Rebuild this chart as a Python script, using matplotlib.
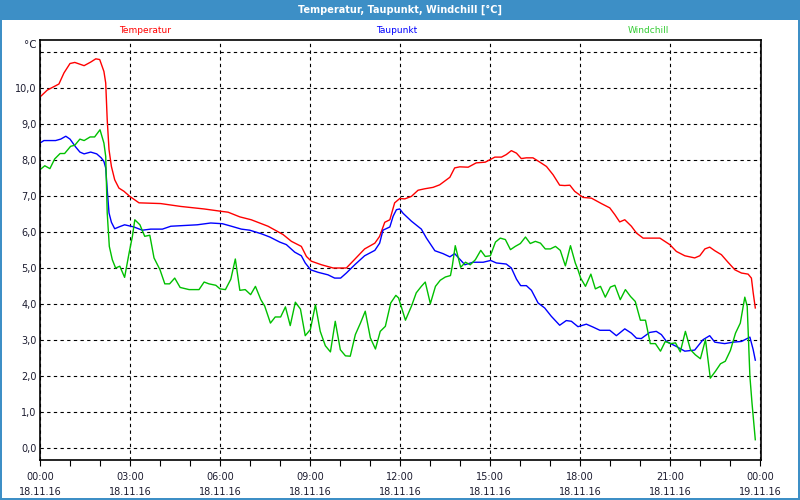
import matplotlib.pyplot as plt
from matplotlib.patches import Rectangle
from matplotlib.ticker import MultipleLocator

# Data (x in hours since 18.11.16 00:00, y in °C)
temp_h = [0, 0.24, 0.63, 0.8, 1.0, 1.16, 1.47, 1.69, 1.86, 1.99, 2.13, 2.19, 2.24, 2.3, 2.38,
          2.49, 2.63, 2.8, 2.99, 3.3, 4.02, 4.69, 5.47, 6.08, 6.27, 6.66, 7.04, 7.6, 8.1,
          8.38, 8.71, 8.88, 9.04, 9.38, 9.77, 10.21, 10.43, 10.82, 11.16, 11.32, 11.49,
          11.66, 11.82, 11.99, 12.16, 12.38, 12.6, 12.82, 13.1, 13.32, 13.66, 13.82, 13.99,
          14.27, 14.54, 14.84, 15.16, 15.38, 15.54, 15.71, 15.88, 16.04, 16.21, 16.43,
          16.66, 16.88, 17.1, 17.32, 17.49, 17.66, 17.82, 18.1, 18.38, 18.71, 18.99, 19.16,
          19.32, 19.49, 19.71, 19.88, 20.1, 20.66, 20.99, 21.21, 21.49, 21.82, 21.99, 22.16,
          22.32, 22.49, 22.71, 22.93, 23.16, 23.38, 23.6, 23.71, 23.77, 23.84]
temp_v = [9.75, 9.94, 10.11, 10.42, 10.68, 10.71, 10.62, 10.72, 10.81, 10.79, 10.46, 10.14,
          9.12, 8.29, 7.82, 7.45, 7.22, 7.13, 6.99, 6.81, 6.79, 6.71, 6.64, 6.57, 6.55, 6.42,
          6.34, 6.16, 5.93, 5.74, 5.6, 5.32, 5.19, 5.09, 5.0, 5.0, 5.19, 5.53, 5.69, 5.88,
          6.27, 6.34, 6.81, 6.93, 6.92, 6.99, 7.16, 7.2, 7.24, 7.31, 7.52, 7.78, 7.81, 7.8,
          7.92, 7.94, 8.08, 8.08, 8.15, 8.26, 8.19, 8.04, 8.06, 8.06, 7.94, 7.82, 7.59, 7.3,
          7.29, 7.3, 7.13, 6.96, 6.94, 6.79, 6.67, 6.48, 6.28, 6.34, 6.16, 5.97, 5.83, 5.83,
          5.65, 5.46, 5.34, 5.28, 5.34, 5.53, 5.58, 5.48, 5.37, 5.16, 4.95, 4.86, 4.83, 4.72,
          4.31, 3.89]

dew_h = [0, 0.13, 0.52, 0.69, 0.86, 1.0, 1.19, 1.33, 1.47, 1.69, 1.89, 2.04, 2.13, 2.19,
         2.24, 2.3, 2.38, 2.49, 2.63, 2.82, 3.13, 3.41, 3.69, 4.08, 4.36, 4.8, 5.24, 5.69,
         6.08, 6.38, 6.71, 6.99, 7.38, 7.66, 7.99, 8.21, 8.49, 8.71, 8.84, 9.02, 9.27, 9.6,
         9.82, 10.02, 10.21, 10.49, 10.82, 11.16, 11.32, 11.43, 11.66, 11.77, 11.88, 11.99,
         12.1, 12.38, 12.71, 12.88, 13.16, 13.43, 13.66, 13.82, 14.16, 14.43, 14.77, 15.02,
         15.21, 15.54, 15.71, 15.88, 16.02, 16.21, 16.38, 16.6, 16.82, 17.04, 17.32, 17.54,
         17.71, 17.93, 18.21, 18.43, 18.66, 18.99, 19.21, 19.49, 19.71, 19.88, 20.04, 20.32,
         20.54, 20.71, 20.88, 21.21, 21.49, 21.82, 22.1, 22.32, 22.49, 22.82, 23.1, 23.38,
         23.66, 23.77, 23.84]
dew_v = [8.47, 8.54, 8.54, 8.58, 8.66, 8.58, 8.36, 8.22, 8.17, 8.22, 8.17, 8.06, 7.96, 7.78,
         7.18, 6.53, 6.27, 6.09, 6.14, 6.2, 6.14, 6.05, 6.08, 6.08, 6.16, 6.18, 6.2, 6.25,
         6.23, 6.16, 6.08, 6.05, 5.95, 5.86, 5.72, 5.65, 5.44, 5.34, 5.14, 4.95, 4.88, 4.81,
         4.72, 4.72, 4.86, 5.09, 5.34, 5.49, 5.69, 6.05, 6.14, 6.44, 6.62, 6.64, 6.52, 6.3,
         6.08, 5.83, 5.48, 5.4, 5.31, 5.4, 5.09, 5.16, 5.16, 5.21, 5.14, 5.11, 5.0, 4.69,
         4.51, 4.51, 4.38, 4.03, 3.89, 3.66, 3.41, 3.54, 3.52, 3.37, 3.44, 3.36, 3.27, 3.27,
         3.12, 3.31, 3.19, 3.05, 3.04, 3.21, 3.24, 3.15, 2.96, 2.82, 2.69, 2.72, 3.01, 3.12,
         2.94, 2.9, 2.94, 2.96, 3.08, 2.73, 2.44]

chill_h = [0, 0.16, 0.33, 0.49, 0.67, 0.82, 1.02, 1.16, 1.33, 1.47, 1.67, 1.82, 2.0, 2.13,
           2.19, 2.24, 2.31, 2.41, 2.52, 2.66, 2.82, 2.97, 3.08, 3.16, 3.33, 3.49, 3.66,
           3.8, 4.0, 4.16, 4.32, 4.49, 4.67, 4.97, 5.3, 5.47, 5.63, 5.86, 6.0, 6.18, 6.36,
           6.51, 6.66, 6.84, 7.02, 7.18, 7.36, 7.49, 7.68, 7.84, 8.02, 8.18, 8.34, 8.51,
           8.68, 8.84, 9.01, 9.18, 9.34, 9.51, 9.68, 9.84, 10.01, 10.18, 10.34, 10.51, 10.68,
           10.84, 11.01, 11.18, 11.34, 11.51, 11.69, 11.86, 11.95, 12.02, 12.18, 12.38, 12.54,
           12.71, 12.84, 13.01, 13.18, 13.34, 13.51, 13.68, 13.74, 13.84, 13.93, 14.02,
           14.18, 14.34, 14.51, 14.69, 14.84, 15.01, 15.18, 15.34, 15.51, 15.68, 15.84,
           16.01, 16.18, 16.34, 16.51, 16.68, 16.84, 17.01, 17.18, 17.34, 17.51, 17.68,
           17.84, 17.93, 18.02, 18.18, 18.36, 18.51, 18.68, 18.84, 19.01, 19.16, 19.34,
           19.51, 19.68, 19.84, 20.01, 20.18, 20.34, 20.51, 20.68, 20.84, 21.01, 21.18,
           21.34, 21.51, 21.68, 21.84, 22.01, 22.18, 22.34, 22.51, 22.68, 22.84, 23.01,
           23.18, 23.34, 23.49, 23.57, 23.66, 23.73, 23.84]
chill_v = [7.73, 7.84, 7.76, 8.03, 8.18, 8.18, 8.38, 8.41, 8.58, 8.54, 8.64, 8.64, 8.84,
           8.47, 8.1, 6.53, 5.6, 5.23, 5.0, 5.05, 4.74, 5.42, 5.88, 6.34, 6.2, 5.88, 5.91,
           5.28, 4.95, 4.56, 4.56, 4.72, 4.46, 4.4, 4.4, 4.61, 4.56, 4.52, 4.42, 4.4, 4.69,
           5.25, 4.38, 4.4, 4.26, 4.49, 4.12, 3.94, 3.47, 3.64, 3.64, 3.92, 3.4, 4.05, 3.86,
           3.12, 3.29, 3.98, 3.24, 2.84, 2.67, 3.52, 2.73, 2.56, 2.55, 3.15, 3.47, 3.8, 3.06,
           2.75, 3.24, 3.38, 4.03, 4.24, 4.17, 3.98, 3.55, 3.94, 4.31, 4.49, 4.61, 4.01,
           4.49, 4.66, 4.75, 4.79, 5.05, 5.62, 5.32, 5.02, 5.16, 5.09, 5.23, 5.49, 5.32,
           5.34, 5.72, 5.83, 5.79, 5.51, 5.6, 5.68, 5.86, 5.68, 5.74, 5.69, 5.53, 5.53, 5.6,
           5.49, 5.06, 5.62, 5.14, 4.95, 4.72, 4.49, 4.83, 4.42, 4.49, 4.19, 4.47, 4.52,
           4.12, 4.4, 4.21, 4.07, 3.55, 3.55, 2.9, 2.9, 2.69, 2.96, 2.9, 2.92, 2.67, 3.24,
           2.73, 2.59, 2.48, 3.01, 1.94, 2.13, 2.34, 2.41, 2.71, 3.19, 3.47, 4.19, 3.94,
           1.99, 1.25, 0.23]

series_names = ["Temperatur", "Taupunkt", "Windchill"]
y_ticks = [0, 1, 2, 3, 4, 5, 6, 7, 8, 9, 10, 11]
x_ticks = [0, 3, 6, 9, 12, 15, 18, 21, 24]
x_labels = ["00:00\n18.11.16", "03:00\n18.11.16", "06:00\n18.11.16", "09:00\n18.11.16",
            "12:00\n18.11.16", "15:00\n18.11.16", "18:00\n18.11.16", "21:00\n18.11.16",
            "00:00\n19.11.16"]

FRAME = "#3d8fc6"
TEXT = "#1c1c30"

fig = plt.figure(figsize=(8, 5), dpi=100)
fig.patch.set_facecolor("white")

# title bar and thin window border
fig.patches.append(Rectangle((0, 0.961), 1, 0.039, transform=fig.transFigure,
                             facecolor=FRAME, edgecolor="none", zorder=0))
fig.patches.append(Rectangle((0, 0), 0.0025, 1, transform=fig.transFigure,
                             facecolor=FRAME, edgecolor="none", zorder=0))
fig.patches.append(Rectangle((0.9975, 0), 0.0025, 1, transform=fig.transFigure,
                             facecolor=FRAME, edgecolor="none", zorder=0))
fig.patches.append(Rectangle((0, 0), 1, 0.004, transform=fig.transFigure,
                             facecolor=FRAME, edgecolor="none", zorder=0))
fig.text(0.5, 1 - 9.5 / 500, "Temperatur, Taupunkt, Windchill [°C]", color="white",
         ha="center", va="center", fontsize=7, fontweight="bold")

ax = fig.add_axes([40 / 800, 40 / 500, 721 / 800, 420 / 500])
ax.plot(temp_h, temp_v, color="#ff0000", lw=1.0)
ax.plot(dew_h, dew_v, color="#0000ff", lw=1.0)
ax.plot(chill_h, chill_v, color="#00c000", lw=1.0)

ax.set_xlim(0, 24.03)
ax.set_ylim(-0.333, 11.333)
ax.set_yticks(y_ticks)
ax.set_yticklabels([f"{v:.1f}".replace(".", ",") if v < 11 else "" for v in y_ticks])
ax.set_xticks(x_ticks)
ax.set_xticklabels(x_labels, linespacing=1.55)
ax.xaxis.set_minor_locator(MultipleLocator(1))

ax.grid(True, color="black", linestyle=(0, (3, 3)), linewidth=0.8)
ax.tick_params(axis="y", length=0, pad=2.5, labelsize=7, labelcolor=TEXT)
ax.tick_params(axis="x", which="both", direction="out", length=4, width=0.8,
               pad=5, labelsize=7, labelcolor=TEXT)
for s in ax.spines.values():
    s.set_linewidth(1.2)
    s.set_color("black")

fig.text(37 / 800, 1 - 45 / 500, "°C", ha="right", va="center", fontsize=7.5, color=TEXT)

# series labels above the plot
legend_x = [145, 397, 648]
legend_c = ["#ff0000", "#0000ff", "#33cc33"]
for name, xp, c in zip(series_names, legend_x, legend_c):
    fig.text(xp / 800, 1 - 30.5 / 500, name, color=c, ha="center", va="center", fontsize=6.5)

fig.savefig("out.png", dpi=100)
